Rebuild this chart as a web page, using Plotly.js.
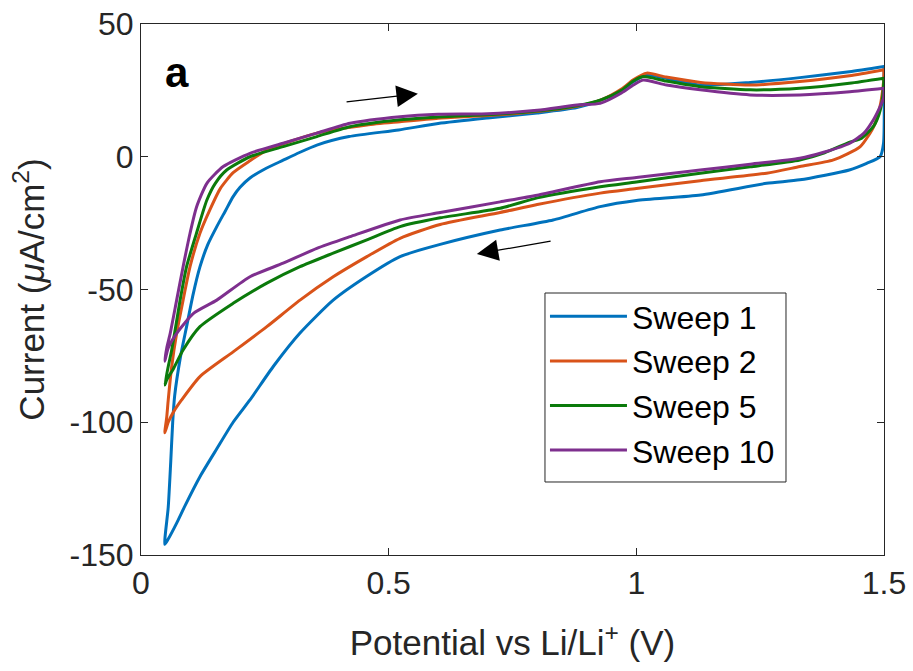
<!DOCTYPE html>
<html>
<head>
<meta charset="utf-8">
<script src="https://cdn.plot.ly/plotly-3.0.1.min.js"></script>
<style>html,body{margin:0;padding:0;background:#fff;}#chart{width:913px;height:671px;}</style>
</head>
<body>
<div id="chart"></div>
<script>
// Sweep 1 (blue)
const s1UpV = [0.048,0.055,0.060,0.064,0.068,0.080,0.092,0.105,0.119,0.135,0.153,0.170,0.186,0.200,0.220,0.250,0.287,0.320,0.355,0.420,0.520,0.600,0.700,0.800,0.880,0.930,0.970,0.994,1.021,1.060,1.130,1.230,1.330,1.430,1.500];
const s1UpI = [-146,-132,-115,-100,-90,-75,-64,-52,-41.5,-33,-26.3,-20.5,-15,-11.5,-8,-4.6,-1.3,1.6,4.4,7.6,10.1,12.5,14.6,16.5,18.5,21.4,25,28.3,30.8,29.6,27,28,29.8,32,34];
const s1DnV = [1.500,1.499,1.492,1.465,1.430,1.330,1.263,1.130,1.000,0.927,0.832,0.725,0.604,0.523,0.456,0.388,0.321,0.267,0.220,0.186,0.153,0.119,0.090,0.072,0.055,0.048];
const s1DnI = [34,5,0,-2.5,-5,-8.7,-10,-14.4,-16.5,-18.8,-23.8,-27.6,-33,-37.6,-45,-54,-66.4,-79,-91.6,-100,-110,-120.5,-131,-138,-144,-146];

// Sweep 2 (red)
const s2UpV = [0.048,0.052,0.055,0.062,0.072,0.085,0.099,0.119,0.139,0.160,0.186,0.220,0.254,0.355,0.456,0.523,0.600,0.700,0.800,0.880,0.930,0.970,0.994,1.021,1.060,1.130,1.230,1.330,1.430,1.500];
const s2UpI = [-104,-98,-91.6,-79,-66.5,-54,-41.4,-28.8,-20,-12,-6,-1.5,2.5,8.9,12,13.2,14.5,15.5,17,19,21.5,25.5,29,31.5,30,28,27,28.3,30.5,32.8];
const s2DnV = [1.500,1.499,1.492,1.479,1.452,1.398,1.330,1.263,1.129,1.000,0.927,0.800,0.725,0.604,0.523,0.456,0.388,0.321,0.254,0.186,0.119,0.082,0.066,0.055,0.048];
const s2DnI = [32.8,28,19,11.3,3.8,-1.2,-3.7,-6.2,-9,-12,-13.7,-18,-21,-25.5,-30.7,-37.6,-45.2,-54,-64,-73.5,-82.8,-91.6,-96,-100,-104];

// Sweep 5 (green)
const s5UpV = [0.048,0.055,0.062,0.079,0.092,0.112,0.133,0.150,0.173,0.220,0.287,0.355,0.422,0.523,0.600,0.700,0.800,0.880,0.930,0.970,0.994,1.014,1.060,1.129,1.230,1.330,1.430,1.500];
const s5UpI = [-86,-79,-72.8,-54,-41.4,-28.8,-16.3,-10,-5,0,3.8,7.6,11.3,13.9,15,15.8,17.2,19.2,21.5,25,28.5,30.2,28.5,26.4,25.2,25.8,27.7,29.6];
const s5DnV = [1.500,1.497,1.490,1.479,1.455,1.431,1.380,1.330,1.230,1.129,1.000,0.927,0.800,0.725,0.604,0.523,0.456,0.388,0.321,0.254,0.186,0.119,0.085,0.065,0.052,0.048];
const s5DnI = [29.6,22,16,11.5,7,5.5,1.5,-1.2,-3.8,-6.2,-9.5,-11.3,-15.5,-19.4,-23,-26.3,-31.3,-36.3,-41.4,-47.6,-55.2,-64,-72.8,-80,-84,-86];

// Sweep 10 (purple)
const s10UpV = [0.048,0.052,0.059,0.072,0.085,0.099,0.112,0.133,0.166,0.220,0.287,0.355,0.422,0.523,0.600,0.700,0.800,0.880,0.927,0.970,0.994,1.014,1.061,1.129,1.230,1.330,1.431,1.500];
const s10UpI = [-77,-72,-66.5,-54,-41.4,-28.8,-19,-10,-3.7,1.3,5.1,8.9,12.6,15.1,16,16.2,17.5,19.5,20.1,24,27,28.9,27,25.2,23.3,23.3,24.5,25.8];
const s10DnV = [1.500,1.499,1.490,1.479,1.460,1.431,1.380,1.330,1.230,1.129,1.000,0.927,0.800,0.725,0.604,0.523,0.422,0.355,0.287,0.220,0.153,0.106,0.072,0.055,0.048];
const s10DnI = [25.8,22,18,14,9,5.1,1.8,-0.6,-2.8,-5,-7.8,-9.4,-14.5,-17,-21,-23.8,-30.1,-34.5,-40.1,-45.2,-54,-59,-66.5,-72,-77];

const sweepNames = ['Sweep 1','Sweep 2','Sweep 5','Sweep 10'];
const sweepColors = ['#0072BD','#D95319','#0B7A0B','#7E2F8E'];
const xTicks = [0,0.5,1,1.5];
const xTickText = ['0','0.5','1','1.5'];
const yTicks = [-150,-100,-50,0,50];
const yTickText = ['-150','-100','-50','0','50'];

const series = [[s1UpV,s1UpI,s1DnV,s1DnI],[s2UpV,s2UpI,s2DnV,s2DnI],[s5UpV,s5UpI,s5DnV,s5DnI],[s10UpV,s10UpI,s10DnV,s10DnI]];

const traces = series.map((s,i)=>({
  type:'scatter', mode:'lines',
  x: s[0].concat(s[2]), y: s[1].concat(s[3]),
  name: sweepNames[i], legendgroup: 'g'+i,
  line:{color:sweepColors[i], width:3, shape:'spline', smoothing:0.6}
}));

const axisColor = '#262626';
const fontFam = '"Liberation Sans", Arial, Helvetica, sans-serif';

const layout = {
  width:913, height:671,
  margin:{l:141, r:29, t:24, b:116},
  paper_bgcolor:'#fff', plot_bgcolor:'#fff',
  font:{family:fontFam, color:axisColor},
  showlegend:true,
  legend:{x:0.5437, y:0.5009, xanchor:'left', yanchor:'top', bgcolor:'rgba(0,0,0,0)',
    borderwidth:0, font:{size:32, color:'#000'},
    tracegroupgap:0, itemwidth:77},
  shapes:[
    {type:'rect', xref:'paper', yref:'paper', x0:0.5437, x1:0.8681, y0:0.1375, y1:0.4934,
     line:{color:axisColor, width:1}, fillcolor:'#fff', layer:'above'}
  ],
  xaxis:{range:[0,1.5], tickvals:xTicks, ticktext:xTickText, ticks:'inside', ticklen:7,
    tickcolor:axisColor, showline:true, linecolor:axisColor, linewidth:1, mirror:'ticks',
    showgrid:false, zeroline:false, tickfont:{size:32, color:axisColor},
    title:{text:'Potential vs Li/Li<sup>+</sup> (V)', font:{size:35, color:axisColor}, standoff:30}},
  yaxis:{range:[-150,50], tickvals:yTicks, ticktext:yTickText, ticks:'inside', ticklen:7,
    tickcolor:axisColor, showline:true, linecolor:axisColor, linewidth:1, mirror:'ticks',
    showgrid:false, zeroline:false, tickfont:{size:32, color:axisColor},
    title:{text:'Current (<i>μ</i>A/cm<sup>2</sup>)', font:{size:35, color:axisColor}, standoff:14}},
  annotations:[
    {x:0.0727, y:31.9, xref:'x', yref:'y', text:'<b>a</b>', showarrow:false, font:{size:42, color:'#000'}},
    {x:0.559, y:23.7, ax:0.412, ay:20.6, xref:'x', yref:'y', axref:'x', ayref:'y', text:'', showarrow:true, arrowhead:2, arrowsize:3.3, arrowwidth:1.3, arrowcolor:'#000'},
    {x:0.678, y:-36.6, ax:0.830, ay:-31.7, xref:'x', yref:'y', axref:'x', ayref:'y', text:'', showarrow:true, arrowhead:2, arrowsize:3.3, arrowwidth:1.3, arrowcolor:'#000'}
  ]
};

Plotly.newPlot('chart', traces, layout, {displayModeBar:false, staticPlot:true});
</script>
</body>
</html>
